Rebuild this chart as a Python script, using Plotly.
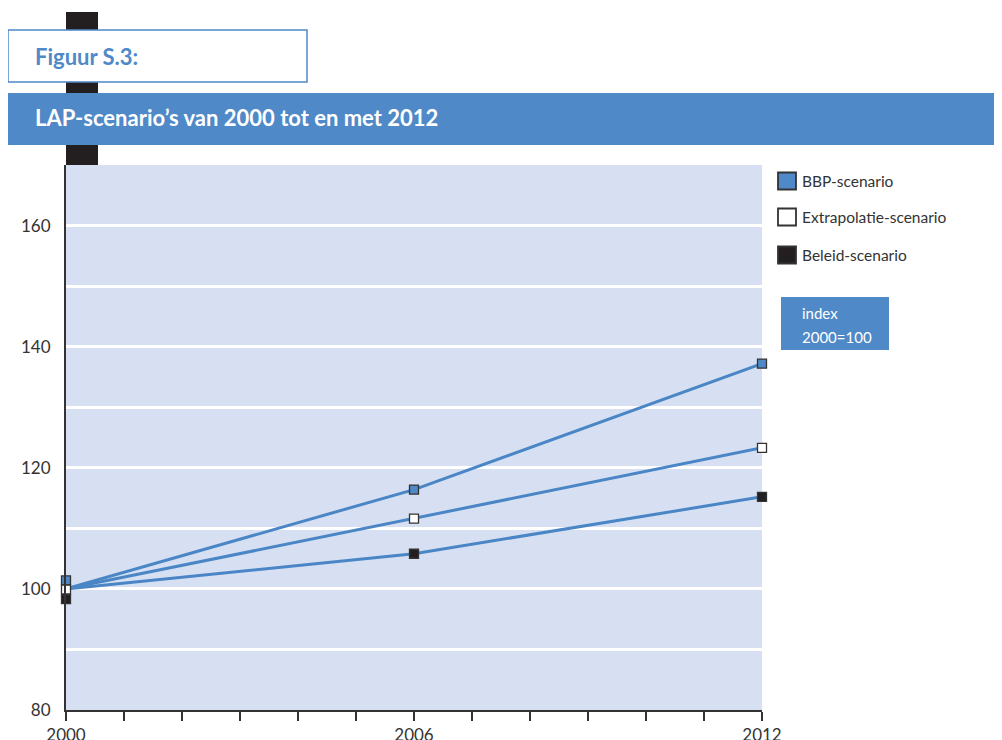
import plotly.graph_objects as go

# ---- data ----
years = [2000, 2006, 2012]
series_names = ["BBP-scenario", "Extrapolatie-scenario", "Beleid-scenario"]
bbp = [100.0, 116.4, 137.2]
extrapolatie = [100.0, 111.6, 123.3]
beleid = [100.0, 105.8, 115.2]
# markers at 2000 are drawn slightly staggered in the original so all three stay visible
start_markers = [101.4, 99.9, 98.3]
y_labels = [80, 100, 120, 140, 160]
x_labels = [2000, 2006, 2012]

# ---- styles ----
LINE_BLUE = "#4a86c6"
BOX_BLUE = "#4f89c8"
PLOT_BG = "#d7e0f2"
DARK = "#231f20"
marker_fills = [BOX_BLUE, "#ffffff", DARK]
FONT = "Lato"

OFF = 8  # page body margin
# plot area in page px
L, R, T, B = 66, 762, 165, 710
W, H = 1002 - OFF, 740 - OFF + 17
PW, PH = R - L, B - T


def px(x):
    return (x - L) / PW


def py(y):
    return (B - y) / PH


fig = go.Figure()
all_series = [bbp, extrapolatie, beleid]
for name, vals in zip(series_names, all_series):
    fig.add_trace(go.Scatter(x=years, y=vals, mode="lines", name=name,
                             line=dict(color=LINE_BLUE, width=3),
                             showlegend=False, hoverinfo="skip"))
for name, vals, fill, start in zip(series_names, all_series, marker_fills, start_markers):
    fig.add_trace(go.Scatter(x=years, y=[start] + vals[1:], mode="markers", name=name,
                             marker=dict(symbol="square", size=9, color=fill,
                                         line=dict(color="#333333", width=1.3)),
                             showlegend=False, cliponaxis=False))

all_years = list(range(2000, 2013))
grid_vals = list(range(80, 171, 10))

fig.update_xaxes(range=[2000, 2012], tickvals=all_years,
                 ticktext=[str(y) if y in x_labels else "" for y in all_years],
                 ticks="outside", ticklen=9, tickwidth=2, tickcolor="#333333",
                 showline=True, linecolor="#333333", linewidth=2,
                 showgrid=False, zeroline=False,
                 tickfont=dict(family=FONT, size=17, color="#333333"))
fig.update_yaxes(range=[80, 170], tickvals=grid_vals,
                 ticktext=[str(v) if v in y_labels else "" for v in grid_vals],
                 ticks="", showline=True, linecolor="#333333", linewidth=2,
                 showgrid=True, gridcolor="#ffffff", gridwidth=2.5, zeroline=False,
                 tickfont=dict(family=FONT, size=17, color="#333333"), ticklabelstandoff=10)

shapes = [
    # black vertical bar behind header
    dict(type="rect", xref="paper", yref="paper", x0=px(66), x1=px(98), y0=py(165), y1=py(12),
         fillcolor=DARK, line=dict(width=0), layer="above"),
    # Figuur box
    dict(type="rect", xref="paper", yref="paper", x0=px(8), x1=px(307), y0=py(82), y1=py(30),
         fillcolor="#ffffff", line=dict(color=BOX_BLUE, width=1.5), layer="above"),
    # banner
    dict(type="rect", xref="paper", yref="paper", x0=px(8), x1=px(1010), y0=py(145), y1=py(93),
         fillcolor=BOX_BLUE, line=dict(width=0), layer="above"),
    # index box
    dict(type="rect", xref="paper", yref="paper", x0=px(781), x1=px(889), y0=py(350), y1=py(297),
         fillcolor=BOX_BLUE, line=dict(width=0), layer="above"),
]
annotations = [
    dict(text="<b>Figuur S.3:</b>", x=px(33), y=py(56), xref="paper", yref="paper",
         xanchor="left", yanchor="middle", showarrow=False,
         font=dict(family=FONT, size=22, color=BOX_BLUE)),
    dict(text="<b>LAP-scenario’s van 2000 tot en met 2012</b>", x=px(33), y=py(118),
         xref="paper", yref="paper", xanchor="left", yanchor="middle", showarrow=False,
         font=dict(family=FONT, size=22, color="#ffffff")),
    dict(text="index", x=px(800), y=py(313), xref="paper", yref="paper",
         xanchor="left", yanchor="middle", showarrow=False,
         font=dict(family=FONT, size=15, color="#ffffff")),
    dict(text="2000=100", x=px(800), y=py(337), xref="paper", yref="paper",
         xanchor="left", yanchor="middle", showarrow=False,
         font=dict(family=FONT, size=15, color="#ffffff")),
]
legend_y = [181, 217, 255]
for name, fill, ly in zip(series_names, marker_fills, legend_y):
    shapes.append(dict(type="rect", xref="paper", yref="paper",
                       x0=px(778), x1=px(796), y0=py(ly + 8.5), y1=py(ly - 8.5),
                       fillcolor=fill, line=dict(color="#333333", width=1.8)))
    annotations.append(dict(text=name, x=px(800), y=py(ly), xref="paper", yref="paper",
                            xanchor="left", yanchor="middle", showarrow=False,
                            font=dict(family=FONT, size=15.5, color="#333333")))

fig.update_layout(width=W, height=H,
                  margin=dict(l=L - OFF, r=1002 - R, t=T - OFF, b=H + OFF - B),
                  paper_bgcolor="#ffffff", plot_bgcolor=PLOT_BG,
                  shapes=shapes, annotations=annotations, showlegend=False)

fig.write_html("out.html")
